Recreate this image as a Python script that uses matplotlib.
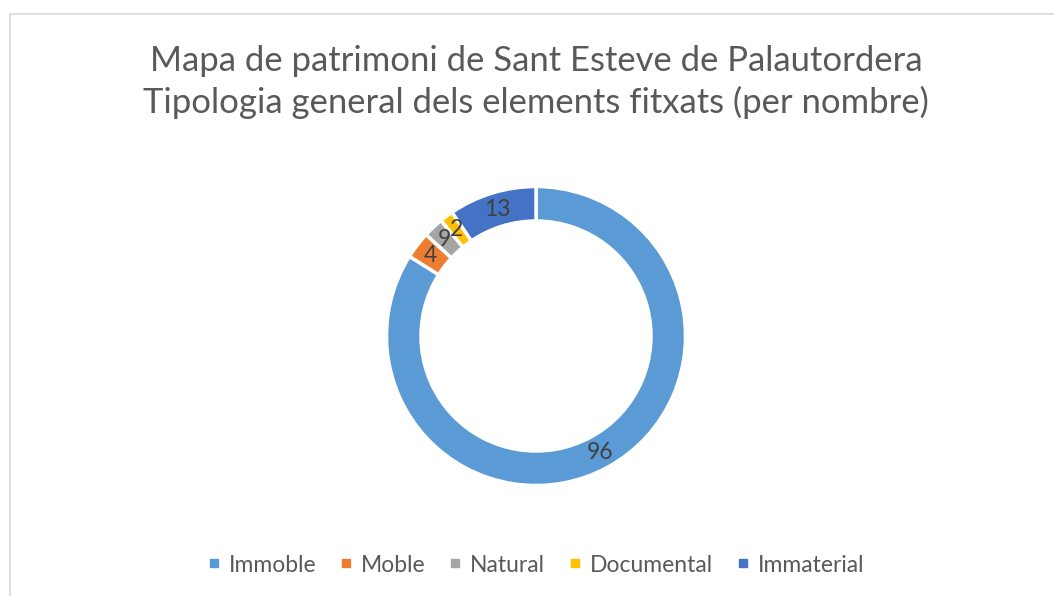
import matplotlib
matplotlib.use("Agg")
import matplotlib.pyplot as plt
import numpy as np
from matplotlib.lines import Line2D
from matplotlib.patches import Rectangle

# Data. The printed labels do not match the slice sizes in the
# original (e.g. "96" covers ~302 deg, "9" is a thin sliver), so keep both.
categories = ["Immoble", "Moble", "Natural", "Documental", "Immaterial"]
label_values = [96, 4, 9, 2, 13]
slice_sizes = [115, 4, 3, 2, 13]
colors = ["#5B9BD5", "#ED7D31", "#A5A5A5", "#FFC000", "#4472C4"]

title = ("Mapa de patrimoni de Sant Esteve de Palautordera\n"
         "Tipologia general dels elements fitxats (per nombre)")

plt.rcParams["font.family"] = ["Lato", "DejaVu Sans"]

W, H = 1054, 596
fig = plt.figure(figsize=(W / 100, H / 100), dpi=100)

# chart-area border (cropped on right/bottom in the reference)
fig.patches.append(Rectangle((10 / W, -0.1), 1.2, 1 - 14 / H + 0.1, transform=fig.transFigure,
                             fill=False, edgecolor="#d9d9d9", lw=1.2))

cx, cy, r_px = 536, 336, 150
ax = fig.add_axes([(cx - r_px) / W, (H - cy - r_px) / H, 2 * r_px / W, 2 * r_px / H])
wedges, _ = ax.pie(slice_sizes, colors=colors, startangle=90, counterclock=False,
                   radius=149.5 / 150, wedgeprops=dict(width=0.23, edgecolor="white", linewidth=2.5))
ax.set_xlim(-1, 1)
ax.set_ylim(-1, 1)
ax.set_aspect("equal")
ax.axis("off")

r_lab = 0.885
for w, v in zip(wedges, label_values):
    mid = np.deg2rad((w.theta1 + w.theta2) / 2)
    ax.text(r_lab * np.cos(mid), r_lab * np.sin(mid), str(v), ha="center", va="center",
            fontsize=16.5, color="#404040")

fig.text(cx / W, 1 - 82 / H, title, ha="center", va="center", fontsize=24.9,
         color="#595959", linespacing=1.33)

handles = [Line2D([], [], marker="s", ls="none", color=c, markersize=5.5) for c in colors]
fig.legend(handles, categories, loc="center", bbox_to_anchor=(cx / W, 1 - 565 / H), ncol=5,
           frameon=False, fontsize=16.5, labelcolor="#595959", handlelength=0.5,
           handletextpad=0.4, columnspacing=1.05)

fig.savefig("out.png", dpi=100)
